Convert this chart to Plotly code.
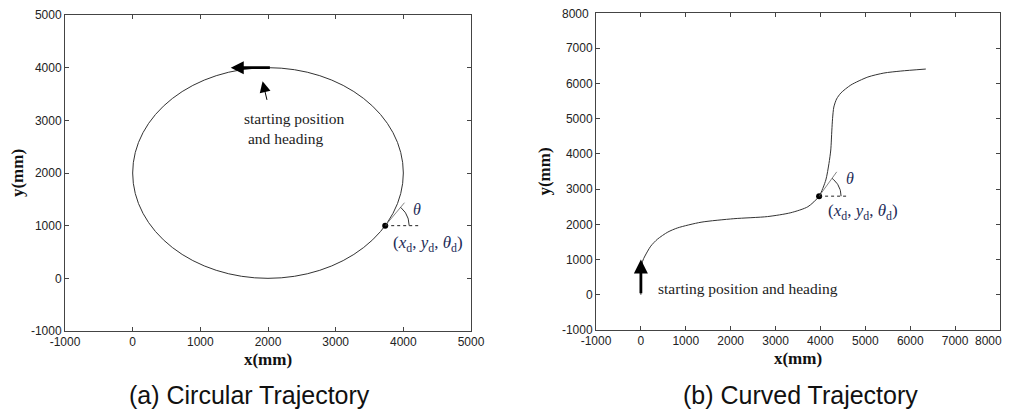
import numpy as np
import plotly.graph_objects as go

# ---------------- data ----------------
# (a) circular trajectory: circle described by center and radius (mm)
circle_center = [2000, 2000]
circle_radius = 2000
a_xticks = [-1000, 0, 1000, 2000, 3000, 4000, 5000]
a_yticks = [-1000, 0, 1000, 2000, 3000, 4000, 5000]
a_point = [3732, 1000]            # (x_d, y_d)
a_start_tail = [2050, 4000]       # heading arrow tail
a_start_head = [1450, 4000]       # heading arrow head

# (b) curved trajectory (mm)
b_x = [0, 0, 37, 90, 220, 370, 600, 820, 1340, 2070, 2820, 3340, 3720, 3970,
       4120, 4190, 4230, 4254, 4270, 4298, 4360, 4454, 4677, 5056, 5412, 5791, 6347]
b_y = [0, 400, 950, 1100, 1380, 1580, 1780, 1900, 2060, 2160, 2220, 2330, 2500, 2800,
       3260, 3730, 4110, 4676, 5000, 5330, 5560, 5727, 5955, 6182, 6295, 6352, 6409]
b_xticks = [-1000, 0, 1000, 2000, 3000, 4000, 5000, 6000, 7000, 8000]
b_yticks = [-1000, 0, 1000, 2000, 3000, 4000, 5000, 6000, 7000, 8000]
b_point = [3970, 2800]
b_start_tail = [0, 0]
b_start_head = [0, 1000]

a_xlabels = [str(v) for v in a_xticks]
a_ylabels = [str(v) for v in a_yticks]
b_xlabels = [str(v) for v in b_xticks]
b_ylabels = [str(v) for v in b_yticks]

SERIF = "Liberation Serif, Times New Roman, serif"
SANS = "Liberation Sans, Arial, sans-serif"
LINE = "#333333"
NAVY = "#1d2b57"

# page body has an 8px margin on every side: keep the figure inside the window
OFF = 8
W, H = 1012 - 2 * OFF, 419 - 2 * OFF


def px(X):
    return (X - OFF) / W


def py(Y):
    return 1 - (Y - OFF) / H


fig = go.Figure()

fig.add_trace(go.Scatter(x=b_x, y=b_y, mode="lines",
                         line=dict(color=LINE, width=1, shape="spline", smoothing=0.7),
                         xaxis="x2", yaxis="y2", hoverinfo="skip"))

fig.add_trace(go.Scatter(x=[a_point[0]], y=[a_point[1]], mode="markers",
                         marker=dict(color="black", size=6), xaxis="x", yaxis="y"))
fig.add_trace(go.Scatter(x=[b_point[0]], y=[b_point[1]], mode="markers",
                         marker=dict(color="black", size=6), xaxis="x2", yaxis="y2"))


def theta_decor(pt, ang_deg, line_len_px, dash_len_px, arc_px, xaxis, yaxis, px_x, px_y):
    """tangent line, dashed horizontal, and angle arc at pt; px_x/px_y = pixels per mm"""
    a = np.deg2rad(ang_deg)
    fig.add_trace(go.Scatter(x=[pt[0], pt[0] + line_len_px * np.cos(a) / px_x],
                             y=[pt[1], pt[1] + line_len_px * np.sin(a) / px_y],
                             mode="lines", line=dict(color="#666", width=0.8),
                             xaxis=xaxis, yaxis=yaxis, hoverinfo="skip"))
    fig.add_trace(go.Scatter(x=[pt[0], pt[0] + dash_len_px / px_x], y=[pt[1], pt[1]],
                             mode="lines", line=dict(color="#222", width=1, dash="dot"),
                             xaxis=xaxis, yaxis=yaxis, hoverinfo="skip"))
    t = np.linspace(0, a, 20)
    fig.add_trace(go.Scatter(x=pt[0] + arc_px * np.cos(t) / px_x, y=pt[1] + arc_px * np.sin(t) / px_y,
                             mode="lines", line=dict(color="#333", width=1),
                             xaxis=xaxis, yaxis=yaxis, hoverinfo="skip"))


theta_decor(a_point, 50, 30, 33, 24, "x", "y", 0.0677, 0.0527)
theta_decor(b_point, 54, 30, 29, 22, "x2", "y2", 0.0449, 0.0352)

shapes = [dict(type="circle", xref="x", yref="y",
               x0=circle_center[0] - circle_radius, x1=circle_center[0] + circle_radius,
               y0=circle_center[1] - circle_radius, y1=circle_center[1] + circle_radius,
               line=dict(color=LINE, width=1), layer="below")]

annotations = []
annotations.append(dict(x=a_start_head[0], y=a_start_head[1], ax=a_start_tail[0], ay=a_start_tail[1],
                        xref="x", yref="y", axref="x", ayref="y", text="", showarrow=True,
                        arrowhead=2, arrowsize=1.0, arrowwidth=2.6, arrowcolor="black"))
annotations.append(dict(x=b_start_head[0], y=b_start_head[1], ax=b_start_tail[0], ay=b_start_tail[1],
                        xref="x2", yref="y2", axref="x2", ayref="y2", text="", showarrow=True,
                        arrowhead=2, arrowsize=1.0, arrowwidth=2.8, arrowcolor="black"))
annotations.append(dict(x=1920, y=3740, ax=1990, ay=3360, xref="x", yref="y", axref="x", ayref="y",
                        text="", showarrow=True, arrowhead=2, arrowsize=2.2, arrowwidth=1, arrowcolor="black"))
annotations.append(dict(x=1610, y=2850, xref="x", yref="y", xanchor="left", yanchor="middle", align="left",
                        text="starting position<br> and heading", showarrow=False,
                        font=dict(family=SERIF, size=15.5, color="#222")))
annotations.append(dict(x=330, y=170, xref="x2", yref="y2", xanchor="left", yanchor="middle",
                        text="starting position and heading", showarrow=False,
                        font=dict(family=SERIF, size=15.5, color="#222")))
lab = "(<i>x</i><sub>d</sub>, <i>y</i><sub>d</sub>, <i>θ</i><sub>d</sub>)"
annotations.append(dict(x=4370, y=660, xref="x", yref="y", text=lab, showarrow=False,
                        font=dict(family=SERIF, size=17, color=NAVY)))
annotations.append(dict(x=4940, y=2360, xref="x2", yref="y2", text=lab, showarrow=False,
                        font=dict(family=SERIF, size=17, color=NAVY)))
annotations.append(dict(x=4200, y=1300, xref="x", yref="y", text="<i>θ</i>", showarrow=False,
                        font=dict(family=SERIF, size=16, color=NAVY)))
annotations.append(dict(x=4660, y=3290, xref="x2", yref="y2", text="<i>θ</i>", showarrow=False,
                        font=dict(family=SERIF, size=16, color=NAVY)))
annotations.append(dict(x=px(249), y=0.0, xref="paper", yref="paper", xanchor="center", yanchor="bottom",
                        text="(a) Circular Trajectory",
                        showarrow=False, font=dict(family=SANS, size=25, color="#111")))
annotations.append(dict(x=px(800), y=0.0, xref="paper", yref="paper", xanchor="center", yanchor="bottom",
                        text="(b) Curved Trajectory",
                        showarrow=False, font=dict(family=SANS, size=25, color="#111")))
# edge tick labels of (b) that plotly would hide because they touch the page edge
annotations.append(dict(x=1.0, y=py(341), xref="paper", yref="paper", xanchor="right", yanchor="middle",
                        text=b_xlabels[-1], showarrow=False, font=dict(family=SANS, size=12, color="#222")))
annotations.append(dict(x=px(591), y=py(14), xref="paper", yref="paper", xanchor="right", yanchor="middle",
                        text=b_ylabels[-1], showarrow=False, font=dict(family=SANS, size=12, color="#222")))
b_xlabels_drawn = b_xlabels[:-1] + [""]
b_ylabels_drawn = b_ylabels[:-1] + [""]

axis_common = dict(showline=True, linecolor="#444", linewidth=1, mirror="ticks", ticks="inside",
                   ticklen=4, tickcolor="#444", showgrid=False, zeroline=False, automargin=False,
                   tickfont=dict(family=SANS, size=12, color="#222"))
title_font = dict(family=SERIF, size=17, color="#111")

fig.update_layout(
    width=W, height=H, margin=dict(l=0, r=0, t=0, b=0),
    paper_bgcolor="white", plot_bgcolor="white", showlegend=False,
    xaxis=dict(axis_common, domain=[px(65), px(471)], range=[-1000, 5000], tickvals=a_xticks,
               ticktext=a_xlabels, anchor="y", title=dict(text="<b>x(mm)</b>", font=title_font, standoff=4)),
    yaxis=dict(axis_common, domain=[py(331), py(15)], range=[-1000, 5000], tickvals=a_yticks,
               ticktext=a_ylabels, anchor="x", title=dict(text="<b>y(mm)</b>", font=title_font, standoff=6)),
    xaxis2=dict(axis_common, domain=[px(596), px(1000)], range=[-1000, 8000], tickvals=b_xticks,
                ticktext=b_xlabels_drawn, anchor="y2", title=dict(text="<b>x(mm)</b>", font=title_font, standoff=4)),
    yaxis2=dict(axis_common, domain=[py(330), py(13)], range=[-1000, 8000], tickvals=b_yticks,
                ticktext=b_ylabels_drawn, anchor="x2", title=dict(text="<b>y(mm)</b>", font=title_font, standoff=6)),
    shapes=shapes, annotations=annotations,
)

fig.write_html("out.html")
